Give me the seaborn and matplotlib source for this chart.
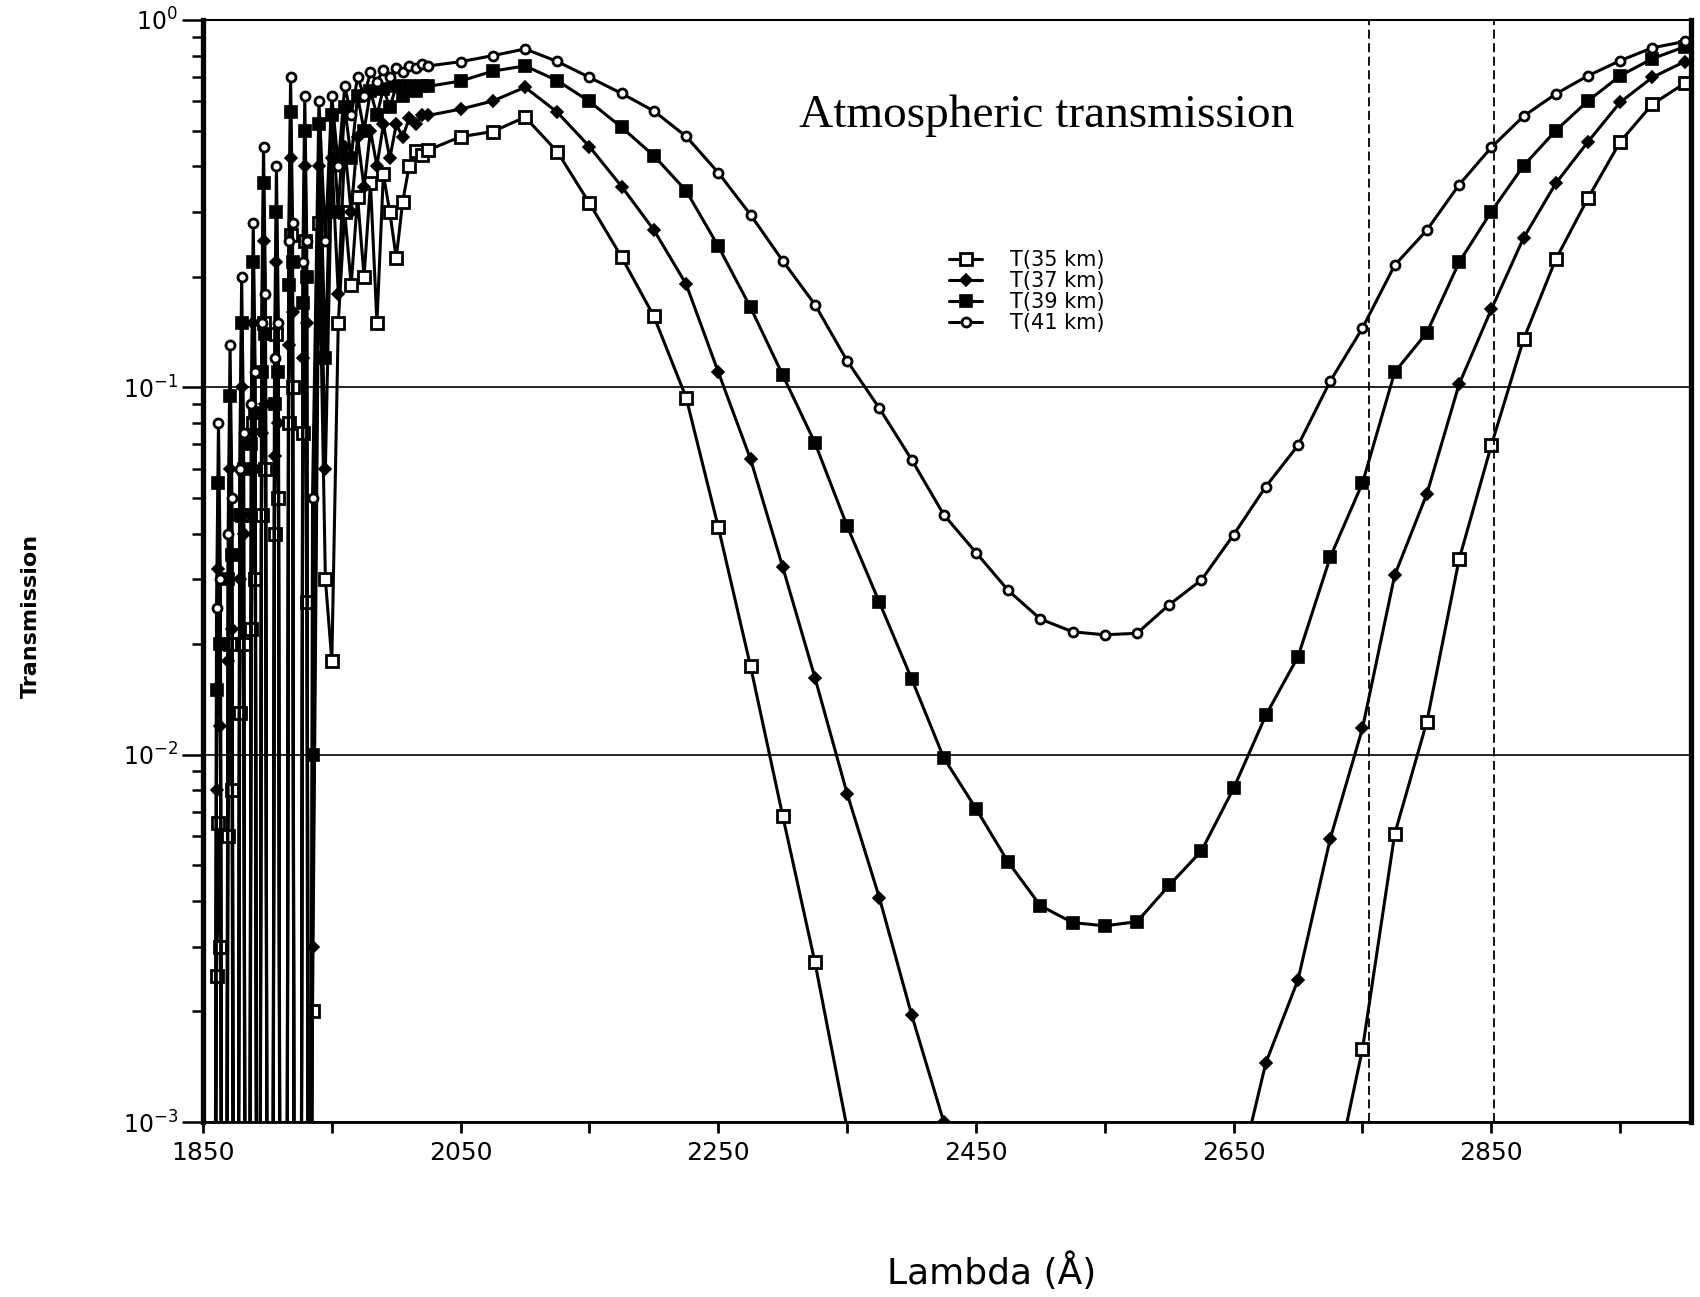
import numpy as np
import pandas as pd
import matplotlib
matplotlib.use("Agg")
import matplotlib.pyplot as plt
import seaborn as sns

# ---------------- data ----------------
series_labels = ["T(35 km)", "T(37 km)", "T(39 km)", "T(41 km)"]

# Schumann-Runge band region: (low, rising, peak, falling, low) around each band window
band_wavelengths = [1858.5, 1860.5, 1862, 1863.5, 1865.5,
                    1867.5, 1869.5, 1871, 1872.5, 1874.5,
                    1876.5, 1878.5, 1880, 1881.5, 1883.5,
                    1885.5, 1887.5, 1889, 1890.5, 1892.5,
                    1893.5, 1895.5, 1897, 1898.5, 1900.5,
                    1903.5, 1905.5, 1907, 1908.5, 1910.5,
                    1914.5, 1916.5, 1918, 1919.5, 1921.5,
                    1925.5, 1927.5, 1929, 1930.5, 1932.5]
transition_wavelengths = [1935, 1940, 1945, 1950, 1955, 1960, 1965, 1970, 1975,
                          1980, 1985, 1990, 1995, 2000, 2005, 2010, 2015, 2020]
main_wavelengths = [2025, 2050, 2075, 2100, 2125, 2150, 2175, 2200, 2225, 2250,
                    2275, 2300, 2325, 2350, 2375, 2400, 2425, 2450, 2475, 2500,
                    2525, 2550, 2575, 2600, 2625, 2650, 2675, 2700, 2725, 2750,
                    2775, 2800, 2825, 2850, 2875, 2900, 2925, 2950, 2975, 3000]

t35_band = [1e-5, 0.0025, 0.0065, 0.003, 1e-5,
            1e-5, 0.006, 0.020, 0.008, 1e-5,
            1e-5, 0.013, 0.045, 0.020, 1e-5,
            1e-5, 0.022, 0.080, 0.030, 1e-5,
            1e-5, 0.045, 0.150, 0.060, 1e-5,
            1e-5, 0.040, 0.140, 0.050, 1e-5,
            1e-5, 0.080, 0.260, 0.100, 1e-5,
            1e-5, 0.075, 0.250, 0.026, 1e-5]
t37_band = [1e-5, 0.008, 0.032, 0.012, 1e-5,
            1e-5, 0.018, 0.060, 0.022, 1e-5,
            1e-5, 0.030, 0.100, 0.040, 1e-5,
            1e-5, 0.045, 0.150, 0.060, 1e-5,
            1e-5, 0.075, 0.250, 0.090, 1e-5,
            1e-5, 0.065, 0.220, 0.080, 1e-5,
            1e-5, 0.130, 0.420, 0.160, 1e-5,
            1e-5, 0.120, 0.400, 0.150, 1e-5]
t39_band = [1e-5, 0.015, 0.055, 0.020, 1e-5,
            1e-5, 0.030, 0.095, 0.035, 1e-5,
            1e-5, 0.045, 0.150, 0.060, 1e-5,
            1e-5, 0.070, 0.220, 0.085, 1e-5,
            1e-5, 0.110, 0.360, 0.140, 1e-5,
            1e-5, 0.090, 0.300, 0.110, 1e-5,
            1e-5, 0.190, 0.560, 0.220, 1e-5,
            1e-5, 0.170, 0.500, 0.200, 1e-5]
t41_band = [1e-5, 0.025, 0.080, 0.030, 1e-5,
            1e-5, 0.040, 0.130, 0.050, 1e-5,
            1e-5, 0.060, 0.200, 0.075, 1e-5,
            1e-5, 0.090, 0.280, 0.110, 1e-5,
            1e-5, 0.150, 0.450, 0.180, 1e-5,
            1e-5, 0.120, 0.400, 0.150, 1e-5,
            1e-5, 0.250, 0.700, 0.280, 1e-5,
            1e-5, 0.220, 0.620, 0.250, 1e-5]

t35_transition = [0.002, 0.280, 0.030, 0.018, 0.150, 0.300, 0.190, 0.330, 0.200,
                  0.360, 0.150, 0.380, 0.300, 0.225, 0.320, 0.400, 0.440, 0.430]
t37_transition = [0.003, 0.400, 0.060, 0.420, 0.180, 0.450, 0.300, 0.480, 0.350,
                  0.500, 0.400, 0.520, 0.420, 0.520, 0.480, 0.540, 0.520, 0.550]
t39_transition = [0.010, 0.520, 0.120, 0.550, 0.300, 0.580, 0.420, 0.620, 0.500,
                  0.640, 0.550, 0.650, 0.580, 0.660, 0.620, 0.660, 0.640, 0.660]
t41_transition = [0.050, 0.600, 0.250, 0.620, 0.400, 0.660, 0.550, 0.700, 0.620,
                  0.720, 0.680, 0.730, 0.700, 0.740, 0.720, 0.750, 0.740, 0.760]

nan = float("nan")
t35_main = [0.443, 0.481, 0.497, 0.544, 0.438, 0.317, 0.226, 0.156, 0.0938, 0.0416,
            0.0174, 0.00681, 0.00272, 0.00096, nan, nan, nan, nan, nan, nan,
            nan, nan, nan, nan, nan, nan, nan, nan, 0.00061, 0.00158,
            0.00608, 0.0123, 0.034, 0.0695, 0.135, 0.223, 0.327, 0.466, 0.590, 0.672]
t37_main = [0.55, 0.572, 0.602, 0.656, 0.561, 0.452, 0.352, 0.268, 0.191, 0.110,
            0.0638, 0.0324, 0.0162, 0.00783, 0.00408, 0.00196, 0.00100, nan, nan, nan,
            nan, nan, nan, nan, nan, 0.00062, 0.00145, 0.00244, 0.00591, 0.0118,
            0.0308, 0.0513, 0.102, 0.163, 0.255, 0.359, 0.466, 0.597, 0.698, 0.77]
t39_main = [0.66, 0.682, 0.726, 0.75, 0.684, 0.60, 0.51, 0.427, 0.343, 0.242,
            0.165, 0.108, 0.0706, 0.0419, 0.026, 0.0161, 0.0098, 0.00713, 0.00510, 0.00388,
            0.00349, 0.00342, 0.00351, 0.00441, 0.00547, 0.0081, 0.0128, 0.0185, 0.0345, 0.0549,
            0.110, 0.141, 0.219, 0.301, 0.401, 0.50, 0.602, 0.705, 0.785, 0.845]
t41_main = [0.75, 0.77, 0.80, 0.834, 0.771, 0.698, 0.631, 0.565, 0.482, 0.384,
            0.295, 0.221, 0.168, 0.118, 0.0877, 0.0636, 0.0450, 0.0355, 0.0280, 0.0234,
            0.0216, 0.0212, 0.0214, 0.0256, 0.0299, 0.0397, 0.0537, 0.0695, 0.104, 0.145,
            0.215, 0.268, 0.356, 0.450, 0.547, 0.629, 0.705, 0.775, 0.840, 0.874]

dashed_wavelengths = [2755, 2852]
x_major_ticks = [1850, 2050, 2250, 2450, 2650, 2850]
x_minor_ticks = [1950, 2150, 2350, 2550, 2750, 2950]
title_text = "Atmospheric transmission"
x_label = "Lambda (Å)"
y_label = "Transmission"

# ---------------- build long table ----------------
wavelengths = band_wavelengths + transition_wavelengths + main_wavelengths
series_values = {
    "T(35 km)": t35_band + t35_transition + t35_main,
    "T(37 km)": t37_band + t37_transition + t37_main,
    "T(39 km)": t39_band + t39_transition + t39_main,
    "T(41 km)": t41_band + t41_transition + t41_main,
}
df = pd.concat(
    [pd.DataFrame({"wavelength": wavelengths, "transmission": series_values[s], "series": s})
     for s in series_labels],
    ignore_index=True,
)

# ---------------- style ----------------
sns.set_style("ticks")
plt.rcParams["font.family"] = ["DejaVu Sans"]
for key in ["text.color", "axes.labelcolor", "xtick.color", "ytick.color", "axes.edgecolor"]:
    plt.rcParams[key] = "black"

fig = plt.figure(figsize=(17, 12.97), dpi=100)
ax = fig.add_axes([203 / 1700, 1 - 1122 / 1297, 1488 / 1700, 1102 / 1297])

marker_styles = {
    "T(35 km)": dict(marker="s", markersize=8.5, markerfacecolor="white",
                     markeredgecolor="black", markeredgewidth=2.0),
    "T(37 km)": dict(marker="D", markersize=6, markerfacecolor="black",
                     markeredgecolor="black", markeredgewidth=1.2),
    "T(39 km)": dict(marker="s", markersize=8.5, markerfacecolor="black",
                     markeredgecolor="black", markeredgewidth=1.2),
    "T(41 km)": dict(marker="o", markersize=6.5, markerfacecolor="white",
                     markeredgecolor="black", markeredgewidth=2.0),
}

for s in series_labels:
    sns.lineplot(data=df[df["series"] == s], x="wavelength", y="transmission",
                 ax=ax, color="black", linewidth=2.2, sort=False, estimator=None,
                 label=s, **marker_styles[s])

ax.set_yscale("log")
ax.set_ylim(1e-3, 1.0)
ax.set_xlim(1850, 3005)

ax.set_xticks(x_major_ticks)
ax.set_xticks(x_minor_ticks, minor=True)
ax.set_xticklabels([str(t) for t in x_major_ticks])

ax.grid(True, axis="y", which="major", color="black", linewidth=1.2)
ax.grid(False, axis="x")

for w in dashed_wavelengths:
    ax.axvline(w, color="black", linewidth=1.3, linestyle=(0, (5, 2.5)))

ax.spines["left"].set_linewidth(3.8)
ax.spines["right"].set_linewidth(3.8)
ax.spines["top"].set_linewidth(1.5)
ax.spines["bottom"].set_linewidth(2.0)

ax.tick_params(axis="x", which="both", direction="out", length=8, width=2,
               labelsize=18, pad=6, colors="black", top=False)
ax.tick_params(axis="y", which="major", direction="out", length=15, width=1.8,
               labelsize=17, pad=3, right=False, colors="black")
ax.tick_params(axis="y", which="minor", direction="out", length=8, width=1.8, right=False,
               colors="black")

ax.set_xlabel(x_label, fontsize=26, va="baseline", color="black")
ax.xaxis.set_label_coords((992 - 203) / 1488, -(1284 - 1122) / 1102)
ax.set_ylabel(y_label, fontsize=16, fontweight="bold", va="center", ha="center",
              color="black", family=["Liberation Sans Narrow", "DejaVu Sans"])
ax.yaxis.set_label_coords((31 - 203) / 1488, 1 - (616 - 20) / 1102)

ax.text((799 - 203) / 1488, 1 - (127 - 20) / 1102, title_text, transform=ax.transAxes,
        fontsize=34, family=["Liberation Serif", "DejaVu Serif"],
        ha="left", va="baseline", color="black")

ax.legend(loc="upper left", bbox_to_anchor=((949 - 203) / 1488, 0.791), frameon=False,
          fontsize=15, handlelength=1.6, handletextpad=1.35, labelspacing=0.05,
          borderpad=0, borderaxespad=0)

fig.savefig("out.png", dpi=100, facecolor="white")
